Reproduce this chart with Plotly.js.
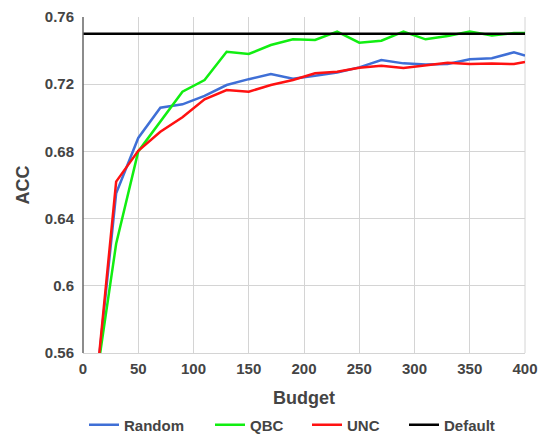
<!DOCTYPE html>
<html>
<head>
<meta charset="utf-8">
<script src="https://cdn.plot.ly/plotly-3.0.1.min.js"></script>
<style>html,body{margin:0;padding:0;background:#fff;}#chart{width:540px;height:434px;}</style>
</head>
<body>
<div id="chart"></div>
<script>
const budget = [10, 30, 50, 70, 90, 110, 130, 150, 170, 190, 210, 230, 250, 270, 290, 310, 330, 350, 370, 390, 400];
const randomAcc = [0.528, 0.655, 0.688, 0.706, 0.708, 0.713, 0.7195, 0.723, 0.726, 0.7233, 0.725, 0.727, 0.730, 0.7344, 0.7324, 0.7318, 0.732, 0.7348, 0.7354, 0.739, 0.737];
const qbcAcc = [0.535, 0.625, 0.680, 0.698, 0.7155, 0.7225, 0.7393, 0.738, 0.7433, 0.7467, 0.7463, 0.7513, 0.7447, 0.7459, 0.7513, 0.7467, 0.7487, 0.7513, 0.749, 0.7505, 0.7505];
const uncAcc = [0.528, 0.662, 0.6804, 0.6917, 0.7003, 0.711, 0.7165, 0.7155, 0.7195, 0.7225, 0.7265, 0.7274, 0.7298, 0.731, 0.7296, 0.731, 0.7328, 0.732, 0.7323, 0.732, 0.7332];
const defaultBudget = [0, 400];
const defaultAcc = [0.75, 0.75];
const yTicks = [0.56, 0.6, 0.64, 0.68, 0.72, 0.76];
const yTickText = ['0.56', '0.6', '0.64', '0.68', '0.72', '0.76'];
const xTicks = [0, 50, 100, 150, 200, 250, 300, 350, 400];

const F = 'Liberation Sans, Arial, sans-serif';
const legFont = {family: F, size: 15, color: '#444', weight: 'bold'};
function leg(xpx) {
  return {orientation: 'h', xref: 'container', yref: 'container', x: xpx / 540, xanchor: 'left',
          y: 9 / 434, yanchor: 'middle', font: legFont, bgcolor: 'rgba(0,0,0,0)'};
}
const traces = [
  {x: budget, y: randomAcc, name: 'Random', mode: 'lines', line: {color: '#3f6fd6', width: 2.5}, legend: 'legend'},
  {x: budget, y: qbcAcc, name: 'QBC', mode: 'lines', line: {color: '#11ee11', width: 2.5}, legend: 'legend2'},
  {x: budget, y: uncAcc, name: 'UNC', mode: 'lines', line: {color: '#ff1111', width: 2.5}, legend: 'legend3'},
  {x: defaultBudget, y: defaultAcc, name: 'Default', mode: 'lines', line: {color: '#000000', width: 2.5}, legend: 'legend4'}
];
const layout = {
  width: 540, height: 434,
  margin: {l: 83, r: 15, t: 17, b: 81},
  paper_bgcolor: '#fff', plot_bgcolor: '#fff',
  font: {family: F, color: '#444', size: 15},
  showlegend: true,
  legend: leg(84), legend2: leg(210), legend3: leg(307), legend4: leg(404),
  xaxis: {
    range: [0, 400], tickvals: xTicks, showgrid: true, gridcolor: '#d4d4d4', gridwidth: 1,
    zeroline: false, showline: true, linecolor: '#d4d4d4', linewidth: 1,
    ticks: '', ticklabelstandoff: 2, tickfont: {family: F, size: 15, color: '#444', weight: 'bold'},
    title: {text: 'Budget', font: {family: F, size: 18, color: '#444', weight: 'bold'}, standoff: 18}
  },
  yaxis: {
    range: [0.56, 0.76], tickvals: yTicks, ticktext: yTickText, showgrid: true, gridcolor: '#d4d4d4', gridwidth: 1,
    zeroline: false, showline: false,
    ticks: '', ticklabelstandoff: 8, tickfont: {family: F, size: 15, color: '#444', weight: 'bold'},
    title: {text: 'ACC', font: {family: F, size: 18, color: '#444', weight: 'bold'}, standoff: 10}
  },
  shapes: [
    {type: 'line', xref: 'paper', yref: 'paper', x0: 0, x1: 0, y0: 0, y1: 1, line: {color: '#666', width: 1.5}},
    {type: 'line', xref: 'paper', yref: 'paper', x0: 1, x1: 1, y0: 0, y1: 1, line: {color: '#d4d4d4', width: 1}, layer: 'below'}
  ]
};
Plotly.newPlot('chart', traces, layout, {displayModeBar: false, staticPlot: true});
</script>
</body>
</html>
